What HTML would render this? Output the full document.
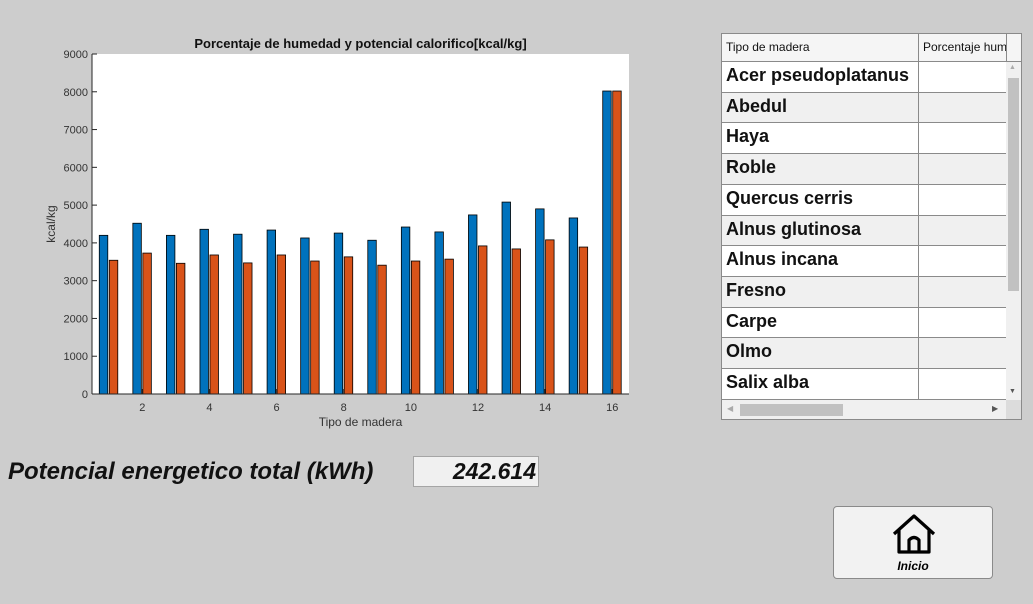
<!DOCTYPE html>
<html><head><meta charset="utf-8"><style>
body{margin:0;width:1033px;height:604px;background:#cdcdcd;font-family:"Liberation Sans",sans-serif;position:relative;overflow:hidden}
.abs{position:absolute}
</style></head><body>
<svg class="abs" style="left:0;top:0" width="700" height="440">
<g id="chart"></g>
</svg>
<div class="abs" style="left:721px;top:33px;width:299px;height:385px;border:1px solid #8a8a8a;background:#f0f0f0;overflow:hidden">
 <div class="abs" style="left:0;top:0;width:299px;height:27px;background:#f5f5f5;border-bottom:1px solid #8a8a8a"></div>
 <div class="abs" style="left:4px;top:6px;font-size:12px;color:#111">Tipo de madera</div>
 <div class="abs" style="left:196px;top:0;width:1px;height:27px;background:#8a8a8a"></div>
 <div class="abs" style="left:201px;top:6px;font-size:12px;color:#111;width:83px;overflow:hidden;white-space:nowrap">Porcentaje humedad</div>
 <div class="abs" style="left:284px;top:0;width:1px;height:27px;background:#8a8a8a"></div>
 <div id="rows"></div>
 <div class="abs" style="left:284px;top:28px;width:15px;height:338px;background:#f0f0f0"></div>
 <div class="abs" style="left:286px;top:44px;width:11px;height:213px;background:#c1c1c1"></div>
 <div class="abs" style="left:287px;top:30px;font-size:7px;color:#aaa">▲</div>
 <div class="abs" style="left:287px;top:354px;font-size:7px;color:#555">▼</div>
 <div class="abs" style="left:0;top:366px;width:284px;height:19px;background:#f0f0f0"></div>
 <div class="abs" style="left:18px;top:370px;width:103px;height:12px;background:#c1c1c1"></div>
 <div class="abs" style="left:5px;top:370px;font-size:8px;color:#aaa">◀</div>
 <div class="abs" style="left:270px;top:370px;font-size:8px;color:#555">▶</div>
 <div class="abs" style="left:284px;top:366px;width:15px;height:19px;background:#dcdcdc"></div>
</div>
<div class="abs" style="left:8px;top:458px;font-size:24px;font-weight:bold;font-style:italic;color:#111">Potencial energetico total (kWh)</div>
<div class="abs" style="left:413px;top:456px;width:122px;height:29px;border:1px solid #a5a5a5;background:#f0f0f0;font-size:23px;font-weight:bold;font-style:italic;text-align:right;line-height:29px;padding-right:2px;color:#111">242.614</div>
<div class="abs" style="left:833px;top:506px;width:158px;height:71px;border:1px solid #8a8a8a;border-radius:4px;background:#f2f2f2">
 <svg class="abs" style="left:56px;top:6px" width="48" height="42"><path d="M4 21 L24 3 L44 21 M9 17 V39 H39 V17 M19 39 V27 Q24 22 29 27 V39" fill="none" stroke="#000" stroke-width="3.2" stroke-linejoin="round"/></svg>
 <div class="abs" style="left:0;top:52px;width:158px;text-align:center;font-size:12px;font-weight:bold;font-style:italic">Inicio</div>
</div>
<script>
const categories=[1,2,3,4,5,6,7,8,9,10,11,12,13,14,15,16];
const blueValues=[4200,4520,4200,4360,4230,4340,4130,4260,4070,4420,4290,4740,5080,4900,4660,8020];
const orangeValues=[3540,3730,3460,3680,3470,3680,3520,3630,3410,3520,3570,3920,3840,4080,3890,8020];
const yTicks=[0,1000,2000,3000,4000,5000,6000,7000,8000,9000];
const xTicks=[2,4,6,8,10,12,14,16];
const woods=["Acer pseudoplatanus","Abedul","Haya","Roble","Quercus cerris","Alnus glutinosa","Alnus incana","Fresno","Carpe","Olmo","Salix alba"];
const NS="http://www.w3.org/2000/svg";
const L=92,R=629,T=54,B=394;
const xs=v=>L+(v-0.5)*(R-L)/16;
const ys=v=>B-v*(B-T)/9000;
const g=document.getElementById('chart');
function el(t,a,txt){const e=document.createElementNS(NS,t);for(const k in a)e.setAttribute(k,a[k]);if(txt!=null)e.textContent=txt;g.appendChild(e);return e;}
let r=el('rect',{x:L,y:T,width:R-L,height:B-T,fill:'#fff'});


categories.forEach((c,i)=>{
 let b=el('rect',{x:xs(c)-9.5,y:ys(blueValues[i]),width:8.5,height:B-ys(blueValues[i]),fill:'#0072bd',stroke:'#000','stroke-width':0.8});
 
 
 let o=el('rect',{x:xs(c)+0.5,y:ys(orangeValues[i]),width:8.5,height:B-ys(orangeValues[i]),fill:'#d95319',stroke:'#000','stroke-width':0.8});
 
 
});
el('line',{x1:L,y1:T,x2:L,y2:B,stroke:'#262626'});
el('line',{x1:L,y1:B,x2:R,y2:B,stroke:'#262626'});
yTicks.forEach(v=>{el('line',{x1:L,y1:ys(v),x2:L+5,y2:ys(v),stroke:'#262626'});
 let t=el('text',{x:L-4,y:ys(v)+4,'text-anchor':'end','font-size':11,fill:'#333'},v);
 
 });
xTicks.forEach(v=>{el('line',{x1:xs(v),y1:B,x2:xs(v),y2:B-5,stroke:'#262626'});
 let t=el('text',{x:xs(v),y:B+17,'text-anchor':'middle','font-size':11,fill:'#333'},v);
 
 });
let tt=el('text',{x:(L+R)/2,y:48,'text-anchor':'middle','font-size':13,'font-weight':'bold',fill:'#111'},'Porcentaje de humedad y potencial calorifico[kcal/kg]');


let xt=el('text',{x:(L+R)/2,y:426,'text-anchor':'middle','font-size':12,fill:'#333'},'Tipo de madera');


let yt=el('text',{x:55,y:224,'text-anchor':'middle','font-size':12,fill:'#333',transform:'rotate(-90 55 224)'},'kcal/kg');


const rows=document.getElementById('rows');
woods.forEach((w,i)=>{
 const d=document.createElement('div');
 d.className='abs';
 
 
 const top=Math.round(28+i*30.7), nxt=Math.round(28+(i+1)*30.7);
 d.style.cssText=`left:0;top:${top}px;width:284px;height:${nxt-top-1}px;border-bottom:1px solid #8a8a8a;background:${i%2?'#f0f0f0':'#fff'}`;
 d.innerHTML=`<div class="abs" style="left:4px;top:3px;font-size:18px;font-weight:bold;color:#111;white-space:nowrap">${w}</div><div class="abs" style="left:196px;top:0;width:1px;height:31px;background:#8a8a8a"></div>`;
 rows.appendChild(d);
});
</script>
</body></html>
